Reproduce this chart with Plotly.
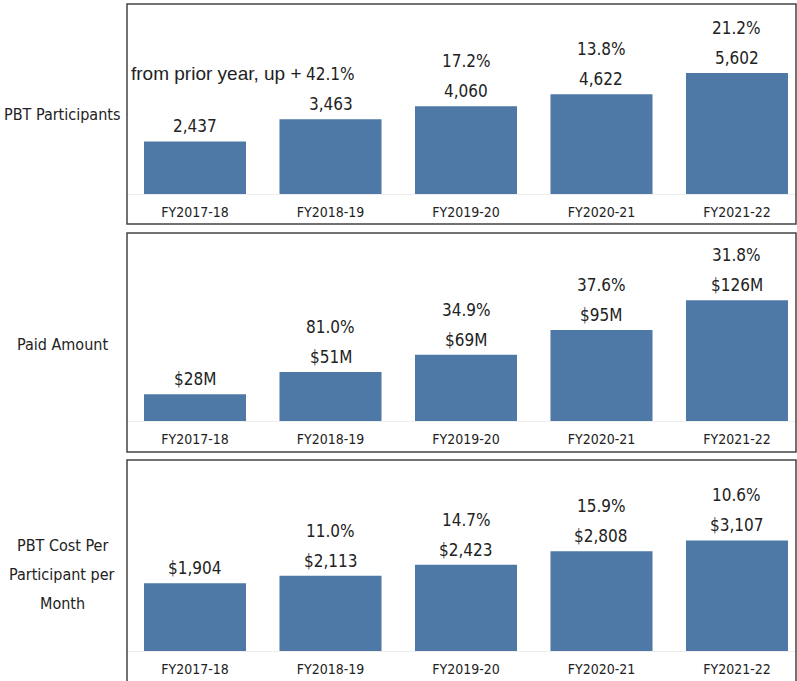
import plotly.graph_objects as go

categories = ["FY2017-18", "FY2018-19", "FY2019-20", "FY2020-21", "FY2021-22"]
participants = [2437, 3463, 4060, 4622, 5602]
participants_pct = [None, 42.1, 17.2, 13.8, 21.2]
paid_amount_m = [28, 51, 69, 95, 126]
paid_pct = [None, 81.0, 34.9, 37.6, 31.8]
cost_per_month = [1904, 2113, 2423, 2808, 3107]
cost_pct = [None, 11.0, 14.7, 15.9, 10.6]
row_titles = [["PBT Participants"], ["Paid Amount"], ["PBT Cost Per", "Participant per", "Month"]]

W, H = 797, 681
BAR = "#4e79a7"
TXT = "#222222"
NARROW = "DejaVu Sans Condensed, Liberation Sans Narrow, sans-serif"

def py(px):
    return (H - px) / H

panels = [
    dict(vals=participants, pct=participants_pct, fmt=lambda v: f"{v:,}", top=4, base=194, bottom=224, ymax=8800, title_y=115),
    dict(vals=paid_amount_m, pct=paid_pct, fmt=lambda v: f"${v}M", top=233, base=421, bottom=452, ymax=196, title_y=345),
    dict(vals=cost_per_month, pct=cost_pct, fmt=lambda v: f"${v:,}", top=460, base=651, bottom=690, ymax=5370, title_y=574),
]

x0_px, x1_px = 127, 796
fig = go.Figure()
annotations = []
shapes = []
for i, p in enumerate(panels):
    n = i + 1
    xa = "x" if n == 1 else f"x{n}"
    ya = "y" if n == 1 else f"y{n}"
    fig.add_trace(go.Bar(
        x=categories, y=p["vals"], xaxis=xa, yaxis=ya,
        marker=dict(color=BAR, line=dict(width=0)), width=0.753,
        hoverinfo="skip", showlegend=False,
    ))
    xkey = "xaxis" if n == 1 else f"xaxis{n}"
    ykey = "yaxis" if n == 1 else f"yaxis{n}"
    fig.update_layout(**{
        xkey: dict(domain=[x0_px / W, 1.0], anchor=ya, type="category",
                   range=[-0.502, 4.443], showgrid=False, zeroline=False,
                   showline=True, linecolor="#eeeeee", linewidth=1,
                   ticks="outside", ticklen=5, tickcolor="rgba(0,0,0,0)",
                   tickfont=dict(family=NARROW, size=14, color=TXT)),
        ykey: dict(domain=[py(p["base"]), py(p["top"])], anchor=xa,
                   range=[0, p["ymax"]], visible=False, showgrid=False),
    })
    for c, v, pc in zip(categories, p["vals"], p["pct"]):
        annotations.append(dict(x=c, y=v, xref=xa, yref=ya, text=p["fmt"](v),
                                showarrow=False, yanchor="middle", yshift=15,
                                font=dict(family=NARROW, size=17, color=TXT)))
        if pc is not None:
            annotations.append(dict(x=c, y=v, xref=xa, yref=ya, text=f"{pc:.1f}%",
                                    showarrow=False, yanchor="middle", yshift=45,
                                    font=dict(family=NARROW, size=17, color=TXT)))
    shapes.append(dict(type="rect", xref="paper", yref="paper",
                       x0=x0_px / W, x1=x1_px / W, y0=py(p["bottom"]), y1=py(p["top"]),
                       line=dict(color="#444444", width=1.5), fillcolor="rgba(0,0,0,0)"))
    lines = row_titles[i]
    for k, line in enumerate(lines):
        ly = p["title_y"] + (k - (len(lines) - 1) / 2) * 29
        annotations.append(dict(x=62 / W, y=py(ly), xref="paper", yref="paper",
                                text=line, showarrow=False, xanchor="center", yanchor="middle",
                                font=dict(family=NARROW, size=16, color=TXT)))

# Leading phrase before the first percentage change
annotations.append(dict(x=categories[1], y=participants[1], xref="x", yref="y",
                        text="from prior year, up +", showarrow=False,
                        xanchor="right", yanchor="middle", xshift=-27, yshift=46,
                        font=dict(family="Liberation Sans, Arial, sans-serif", size=19, color=TXT)))

fig.update_layout(width=W, height=H, margin=dict(l=0, r=0, t=0, b=0),
                  plot_bgcolor="white", paper_bgcolor="white", bargap=0.25,
                  annotations=annotations, shapes=shapes)
fig.write_html("out.html", config={"displayModeBar": False},
               post_script="document.body.style.margin='0px';")
